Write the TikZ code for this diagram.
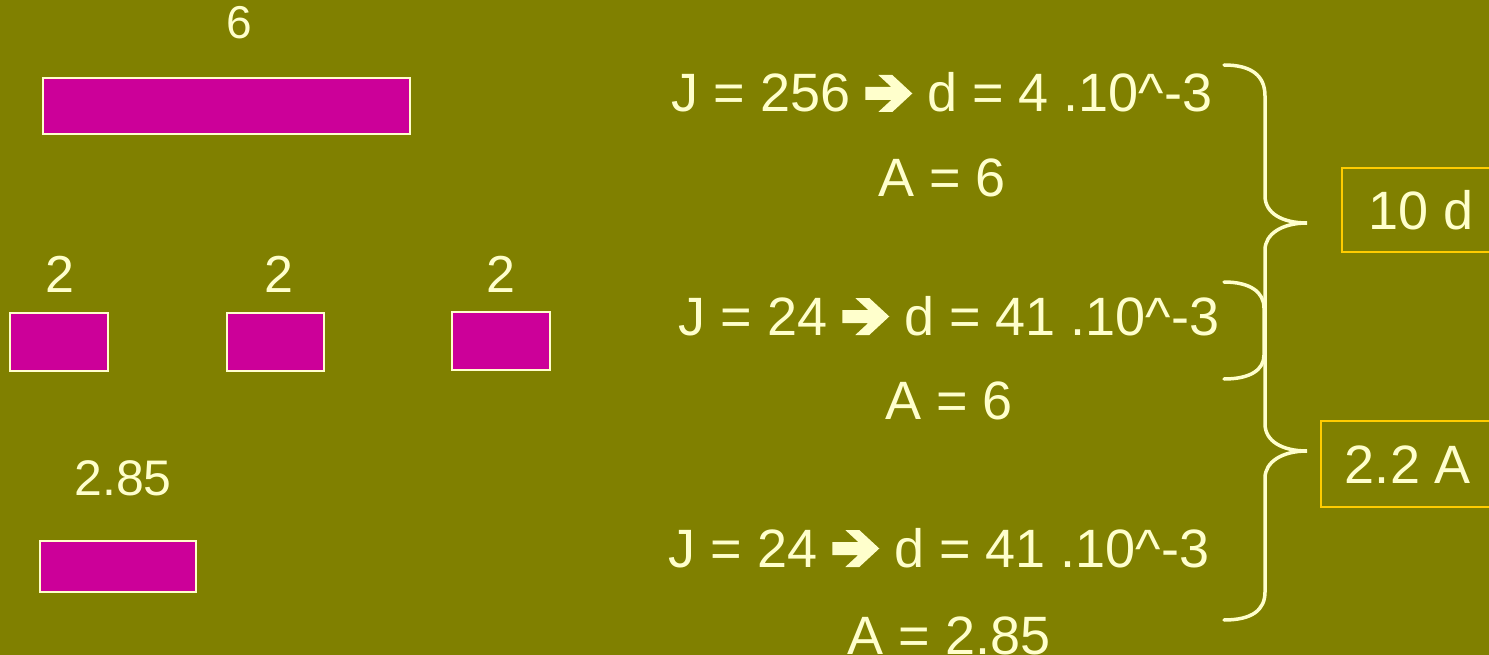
\documentclass[tikz,border=0pt]{standalone}
\usepackage{fontspec}
\setmainfont{Liberation Sans}
\definecolor{bg}{HTML}{808000}
\definecolor{mag}{HTML}{CC0099}
\definecolor{cream}{HTML}{FFFFCC}
\definecolor{gold}{HTML}{FFCC00}
\newcommand{\arr}{\begin{pgfpicture}%
  \pgfsetfillcolor{cream}%
  \pgfpathmoveto{\pgfpoint{0pt}{12pt}}%
  \pgfpathlineto{\pgfpoint{26pt}{12pt}}%
  \pgfpathlineto{\pgfpoint{13pt}{0pt}}%
  \pgfpathlineto{\pgfpoint{27pt}{0pt}}%
  \pgfpathlineto{\pgfpoint{47pt}{18.5pt}}%
  \pgfpathlineto{\pgfpoint{27pt}{37pt}}%
  \pgfpathlineto{\pgfpoint{13pt}{37pt}}%
  \pgfpathlineto{\pgfpoint{26pt}{25pt}}%
  \pgfpathlineto{\pgfpoint{0pt}{25pt}}%
  \pgfpathclose
  \pgfusepath{fill}%
\end{pgfpicture}}
\tikzset{
  lbl/.style={anchor=base, inner sep=0pt, text=cream, font=\fontsize{54}{60}\selectfont},
  smalllbl/.style={lbl, font=\fontsize{46}{52}\selectfont},
  bar/.style={draw=cream, line width=2pt, fill=mag},
  resbox/.style={draw=gold, line width=2pt},
  brace/.style={draw=cream, line width=3.5pt, line cap=round}
}
\begin{document}
\begin{tikzpicture}[x=1pt,y=-1pt]
\fill[bg] (0,0) rectangle (1489,655);
\useasboundingbox (0,0) rectangle (1489,655);

% left bars
\node[smalllbl] (l6) at (239,39) {6};
\draw[bar] (43,78) rectangle (410,134);
\node[lbl, font=\fontsize{52}{58}\selectfont] (l2a) at (60,292) {2};
\node[lbl, font=\fontsize{52}{58}\selectfont] (l2b) at (279,292) {2};
\node[lbl, font=\fontsize{52}{58}\selectfont] (l2c) at (501,292) {2};
\draw[bar] (10,313) rectangle (108,371);
\draw[bar] (227,313) rectangle (324,371);
\draw[bar] (452,312) rectangle (550,370);
\node[lbl, font=\fontsize{50}{56}\selectfont] (l285) at (123,495) {2.85};
\draw[bar] (40,541) rectangle (196,592);

% right equations
\node[lbl] (j1) at (942,112) {J = 256 \arr{} d = 4 .10\^{}-3};
\node[lbl] (a1) at (942,197) {A = 6};
\node[lbl] (j2) at (949,335) {J = 24 \arr{} d = 41 .10\^{}-3};
\node[lbl] (a2) at (949,419) {A = 6};
\node[lbl] (j3) at (939,567) {J = 24 \arr{} d = 41 .10\^{}-3};
\node[lbl] (a3) at (949,654) {A = 2.85};

% braces
\draw[brace] (1224,65) .. controls (1252,65) and (1265,76) .. (1265,96)
  -- (1265,196) .. controls (1265,213) and (1282,223) .. (1307,223)
  .. controls (1282,223) and (1265,234) .. (1265,250)
  -- (1265,424) .. controls (1265,441) and (1282,451) .. (1307,451)
  .. controls (1282,451) and (1265,462) .. (1265,478)
  -- (1265,592) .. controls (1265,610) and (1252,620) .. (1224,620);
\draw[brace] (1224,282) .. controls (1250,282) and (1264,292) .. (1264,308)
  -- (1264,355) .. controls (1264,370) and (1250,379) .. (1224,379);

% result boxes
\draw[resbox] (1342,168) rectangle (1500,252);
\node[lbl] (r1) at (1421,230) {10 d};
\draw[resbox] (1321,421) rectangle (1500,507);
\node[lbl] (r2) at (1408,483) {2.2 A};
\end{tikzpicture}
\end{document}
